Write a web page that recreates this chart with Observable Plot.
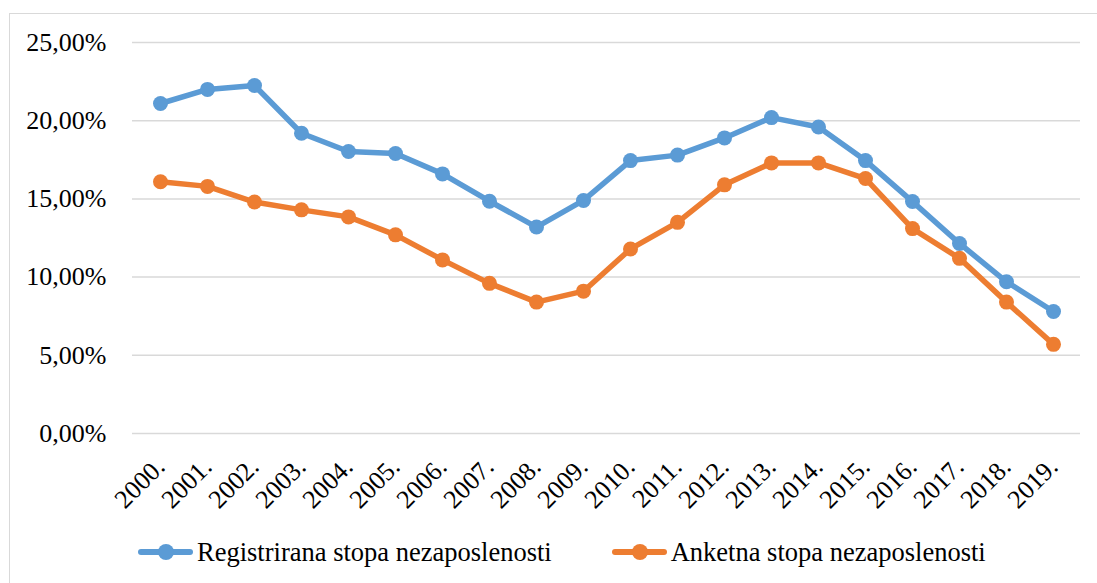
<!DOCTYPE html>
<html>
<head>
<meta charset="utf-8">
<script src="https://cdn.jsdelivr.net/npm/d3@7"></script>
<script src="https://cdn.jsdelivr.net/npm/@observablehq/plot@0.6"></script>
<style>
  html, body { margin: 0; padding: 0; background: #fff; }
  body { width: 1097px; height: 583px; overflow: hidden; position: relative; font-family: "Liberation Serif", "Times New Roman", serif; }
  #frame { position: absolute; left: 9px; top: 13px; width: 1100px; height: 600px; border: 1.5px solid #d9d9d9; box-sizing: border-box; }
  #chart { position: absolute; left: 0; top: 0; }
  #chart svg text { font-family: "Liberation Serif", "Times New Roman", serif; }
  #legend { position: absolute; left: 138px; top: 534px; height: 36px; display: flex; align-items: center; gap: 60px; font-size: 26.5px; color: #000; white-space: nowrap; }
  .item { display: flex; align-items: center; }
  .sw { position: relative; width: 55px; height: 16px; margin-right: 4px; }
  .sw .ln { position: absolute; left: 0; right: 0; top: 5px; height: 5.5px; border-radius: 3px; }
  .sw .dt { position: absolute; left: 20px; top: 0px; width: 16px; height: 16px; border-radius: 50%; }
</style>
</head>
<body>
<div id="frame"></div>
<div id="chart"></div>
<div id="legend"></div>
<script>
const years = ["2000.","2001.","2002.","2003.","2004.","2005.","2006.","2007.","2008.","2009.","2010.","2011.","2012.","2013.","2014.","2015.","2016.","2017.","2018.","2019."];
const registrirana = [21.1, 22.0, 22.25, 19.2, 18.03, 17.9, 16.6, 14.85, 13.2, 14.9, 17.45, 17.8, 18.9, 20.2, 19.6, 17.45, 14.83, 12.15, 9.7, 7.8];
const anketna = [16.1, 15.8, 14.8, 14.3, 13.85, 12.7, 11.1, 9.6, 8.4, 9.1, 11.8, 13.5, 15.9, 17.3, 17.3, 16.3, 13.1, 11.2, 8.4, 5.7];
const seriesNames = ["Registrirana stopa nezaposlenosti", "Anketna stopa nezaposlenosti"];
const seriesColors = ["#5B9BD5", "#ED7D31"];
const yTicks = [0, 5, 10, 15, 20, 25];

const data = [];
years.forEach((y, i) => {
  data.push({year: y, value: registrirana[i], series: seriesNames[0]});
  data.push({year: y, value: anketna[i], series: seriesNames[1]});
});

const fmt = d => d.toFixed(2).replace(".", ",") + "%";

const chart = Plot.plot({
  width: 1097,
  height: 530,
  marginLeft: 132,
  marginRight: 17,
  marginTop: 42,
  marginBottom: 97,
  style: {fontFamily: "'Liberation Serif', 'Times New Roman', serif", fontSize: "26px", color: "#000", background: "transparent"},
  x: {type: "point", domain: years, padding: 0.5, label: null},
  y: {domain: [0, 25], label: null},
  color: {domain: seriesNames, range: seriesColors},
  marks: [
    Plot.gridY(yTicks, {stroke: "#d9d9d9", strokeOpacity: 1, strokeWidth: 1.5}),
    Plot.axisY(yTicks, {tickSize: 0, tickPadding: 26, tickFormat: fmt, fontSize: 26, label: null}),
    Plot.axisX({tickSize: 0, tickRotate: -45, tickPadding: 29, fontSize: 26, label: null}),
    Plot.line(data, {x: "year", y: "value", z: "series", stroke: "series", strokeWidth: 5.5, strokeLinejoin: "round"}),
    Plot.dot(data, {x: "year", y: "value", fill: "series", r: 7.5})
  ]
});
document.getElementById("chart").appendChild(chart);

const legend = document.getElementById("legend");
seriesNames.forEach((n, i) => {
  const it = document.createElement("div");
  it.className = "item";
  it.innerHTML = `<div class="sw"><div class="ln" style="background:${seriesColors[i]}"></div><div class="dt" style="background:${seriesColors[i]}"></div></div><span>${n}</span>`;
  legend.appendChild(it);
});
</script>
</body>
</html>
